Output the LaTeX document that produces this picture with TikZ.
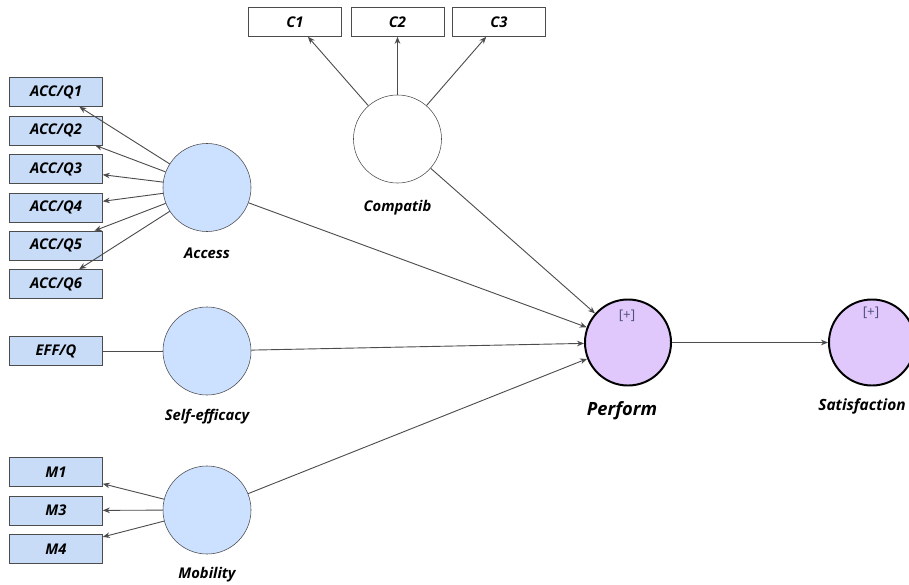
\documentclass[tikz,border=0pt]{standalone}
\usepackage{fontspec}
\setmainfont{Open Sans}
\usetikzlibrary{arrows.meta}
\definecolor{indfill}{HTML}{C8DCF8}
\definecolor{latfill}{HTML}{CCE0FF}
\definecolor{endofill}{HTML}{E0C8FC}
\definecolor{plusblue}{HTML}{505078}

\begin{document}
\begin{tikzpicture}[
    x=0.025cm, y=-0.025cm,
    ind/.style={draw=black!70, fill=indfill, minimum width=2.325cm,
                minimum height=0.725cm, inner sep=0pt,
                font=\fontsize{10.5}{12}\selectfont\bfseries\itshape},
    cbox/.style={ind, fill=white},
    lat/.style={circle, draw=black!70, fill=latfill, minimum size=2.2cm,
                inner sep=0pt},
    endo/.style={circle, draw=black, line width=1.4pt, fill=endofill,
                 minimum size=2.15cm, inner sep=0pt},
    lbl/.style={font=\fontsize{10.5}{12}\selectfont\bfseries\itshape},
    plus/.style={text=plusblue, font=\fontsize{9.5}{11}\selectfont},
    link/.style={draw=black!70, line width=0.65pt},
    >={Stealth[length=5pt, width=4pt]}
  ]
  \useasboundingbox (0, 0) rectangle (909, 585);

  \node[ind] (acc1) at (56, 92) {ACC/Q1};
  \node[ind] (acc2) at (56, 130.5) {ACC/Q2};
  \node[ind] (acc3) at (56, 169) {ACC/Q3};
  \node[ind] (acc4) at (56, 207.5) {ACC/Q4};
  \node[ind] (acc5) at (56, 245.5) {ACC/Q5};
  \node[ind] (acc6) at (56, 284) {ACC/Q6};
  \node[ind] (eff) at (56, 351) {EFF/Q};
  \node[ind] (m1) at (56, 472) {M1};
  \node[ind] (m3) at (56, 510.5) {M3};
  \node[ind] (m4) at (56, 549) {M4};

  \node[cbox] (c1) at (295, 22) {C1};
  \node[cbox] (c2) at (397.5, 22) {C2};
  \node[cbox] (c3) at (499, 22) {C3};

  \node[lat] (access) at (207, 187.5) {};
  \node[lat] (selfeff) at (207, 351) {};
  \node[lat] (mobility) at (207, 510) {};
  \node[lat, fill=white] (compatib) at (397.5, 139) {};
  \node[endo] (perform) at (628, 342.5) {};
  \node[endo] (satisf) at (872, 342.5) {};

  \node[lbl] (accessLabel) at (207, 253) {Access};
  \node[lbl] (selfeffLabel) at (207, 417) {Self-efficacy};
  \node[lbl] (mobilityLabel) at (207, 575) {Mobility};
  \node[lbl] (compatibLabel) at (397.5, 208) {Compatib};
  \node[lbl, font=\fontsize{13}{15}\selectfont\bfseries\itshape]
    (performLabel) at (622, 411) {Perform};
  \node[lbl, font=\fontsize{11}{13}\selectfont\bfseries\itshape]
    (satisfLabel) at (862, 406) {Satisfaction};
  \node[plus] (performPlus) at (627, 316) {[+]};
  \node[plus] (satisfPlus) at (871, 313) {[+]};

  \draw[link, ->] (access) -- (acc1);
  \draw[link, ->] (access) -- (acc2);
  \draw[link, ->] (access) -- (acc3);
  \draw[link, ->] (access) -- (acc4);
  \draw[link, ->] (access) -- (acc5);
  \draw[link, ->] (access) -- (acc6);
  \draw[link] (selfeff) -- (eff);
  \draw[link, ->] (mobility) -- (m1);
  \draw[link, ->] (mobility) -- (m3);
  \draw[link, ->] (mobility) -- (m4);
  \draw[link, ->] (compatib) -- (c1);
  \draw[link, ->] (compatib) -- (c2);
  \draw[link, ->] (compatib) -- (c3);

  \draw[link, ->] (access) -- (perform);
  \draw[link, ->] (selfeff) -- (perform);
  \draw[link, ->] (mobility) -- (perform);
  \draw[link, ->] (compatib) -- (perform);
  \draw[link, ->] (perform) -- (satisf);
\end{tikzpicture}
\end{document}
